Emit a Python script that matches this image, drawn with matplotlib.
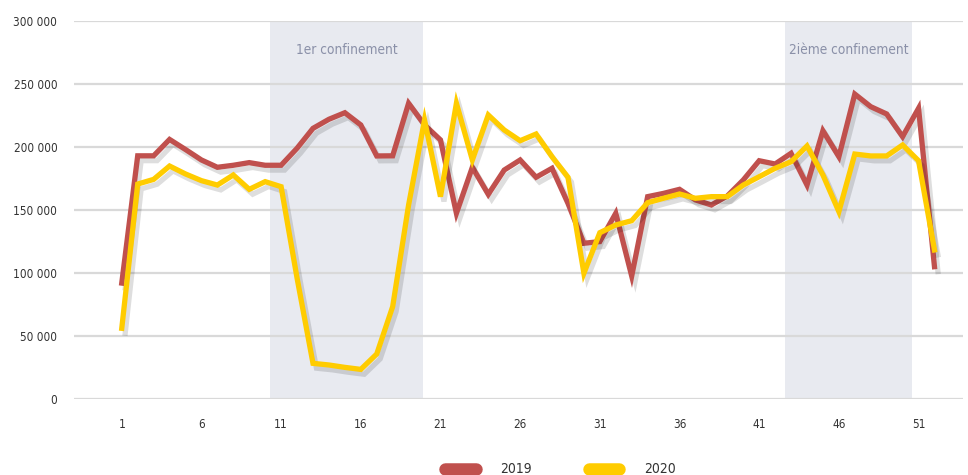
import matplotlib.pyplot as plt
import matplotlib.patheffects as pe
from matplotlib import font_manager
from matplotlib.ticker import FuncFormatter

# Weekly counts
weeks = list(range(1, 53))
values_2019 = [92000, 193000, 193000, 206000, 198000, 189700, 183900, 185500, 187600, 185500,
               185500, 199000, 214800, 222000, 227200, 217500, 192900, 193000, 234700, 217500,
               205600, 147400, 183900, 162400, 181700, 189700, 176000, 183100, 155300, 123600,
               124900, 147400, 97600, 160600, 163200, 166400, 158000, 154000, 161100, 173800,
               189100, 186500, 195000, 169800, 212900, 192300, 242000, 232000, 226200, 208200,
               230700, 105000]
values_2020 = [56100, 170600, 174300, 184900, 178600, 173300, 169800, 177800, 166400, 172500,
               168500, 96000, 28300, 27000, 25100, 23500, 35700, 73300, 154000, 221400,
               160600, 234700, 189700, 225400, 213500, 205000, 210300, 192300, 176000, 99800,
               132000, 138100, 141500, 155800, 159300, 162700, 159300, 160600, 160600, 169800,
               176400, 183100, 188300, 200800, 177800, 148700, 194400, 192900, 192900, 201600,
               189100, 118300]
lockdowns = [(10.3, 19.9, "1er confinement"), (42.6, 50.6, "2ième confinement")]
xticks = [1, 6, 11, 16, 21, 26, 31, 36, 41, 46, 51]

red = "#C0504D"
yellow = "#FFCC00"
# condensed face, close to the narrow font of the original
fp = font_manager.FontProperties(family="DejaVu Sans", stretch="condensed", size=8.5)

fig = plt.figure(figsize=(9.68, 4.75), dpi=100)
ax = fig.add_axes([0.0764, 0.16, 0.9186, 0.7958])

for start, end, label in lockdowns:
    ax.axvspan(start, end, color="#E8EAF0", zorder=0, lw=0)
    ax.text((start + end) / 2, 277000, label, ha="center", va="center",
            color="#8A90A8", fontproperties=fp, fontsize=9.8)

shadow = [pe.SimpleLineShadow(offset=(2.5, -3.5), shadow_color="black", alpha=0.13), pe.Normal()]
ax.plot(weeks, values_2019, color=red, lw=3.8, label="2019", zorder=3,
        path_effects=shadow, solid_joinstyle="miter")
ax.plot(weeks, values_2020, color=yellow, lw=3.8, label="2020", zorder=4,
        path_effects=shadow, solid_joinstyle="miter")

ax.set_xlim(-2.0, 53.8)
ax.set_ylim(0, 300000)
ax.set_yticks(range(0, 300001, 50000))
ax.set_xticks(xticks)
ax.yaxis.set_major_formatter(FuncFormatter(lambda v, p: f"{int(v):,}".replace(",", " ")))
ax.grid(axis="y", color="#D9D9D9", lw=1.6, zorder=1)
ax.set_axisbelow(True)
for s in ax.spines.values():
    s.set_visible(False)
ax.tick_params(length=0, labelcolor="#333333")
ax.tick_params(axis="y", pad=12)
ax.tick_params(axis="x", pad=14)
for lbl in ax.get_xticklabels() + ax.get_yticklabels():
    lbl.set_fontproperties(fp)

leg = fig.legend(ncol=2, loc="center", bbox_to_anchor=(0.579, 0.012), frameon=False,
                 handlelength=2.6, columnspacing=4.8, handletextpad=2.1, prop=fp)
for h in leg.legend_handles:
    h.set_linewidth(9)
    h.set_solid_capstyle("round")
    h.set_path_effects([])
for t in leg.get_texts():
    t.set_color("#333333")
    t.set_fontsize(10)

fig.savefig("out.png", dpi=100)
